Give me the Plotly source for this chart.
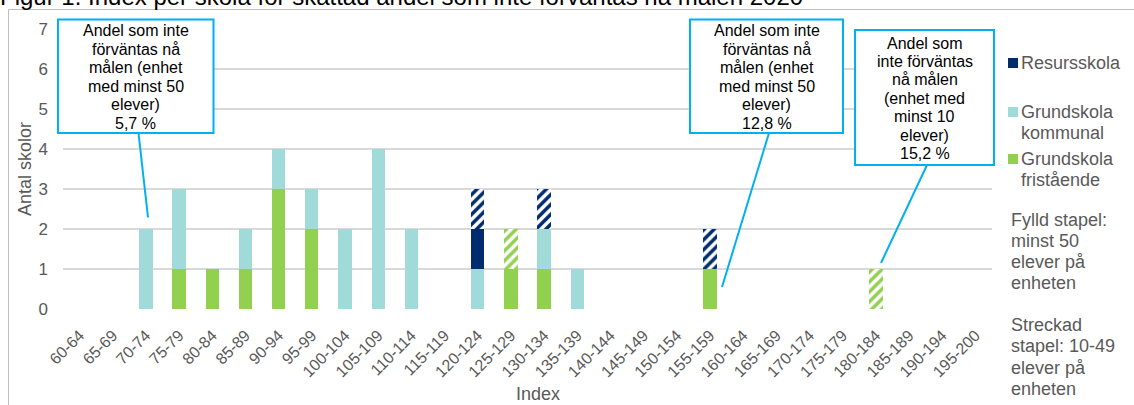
import plotly.graph_objects as go

# Index intervals on the x axis
kategorier = [
    "60-64", "65-69", "70-74", "75-79", "80-84", "85-89", "90-94", "95-99",
    "100-104", "105-109", "110-114", "115-119", "120-124", "125-129",
    "130-134", "135-139", "140-144", "145-149", "150-154", "155-159",
    "160-164", "165-169", "170-174", "175-179", "180-184", "185-189",
    "190-194", "195-200",
]

# Number of schools per interval – filled bars (at least 50 pupils)
fristaende_fylld = [0, 0, 0, 1, 1, 1, 3, 2, 0, 0, 0, 0, 0, 1, 1, 0, 0, 0, 0, 1, 0, 0, 0, 0, 0, 0, 0, 0]
kommunal_fylld   = [0, 0, 2, 2, 0, 1, 1, 1, 2, 4, 2, 0, 1, 0, 1, 1, 0, 0, 0, 0, 0, 0, 0, 0, 0, 0, 0, 0]
resurs_fylld     = [0, 0, 0, 0, 0, 0, 0, 0, 0, 0, 0, 0, 1, 0, 0, 0, 0, 0, 0, 0, 0, 0, 0, 0, 0, 0, 0, 0]
# Hatched bars (10-49 pupils)
fristaende_streckad = [0, 0, 0, 0, 0, 0, 0, 0, 0, 0, 0, 0, 0, 1, 0, 0, 0, 0, 0, 0, 0, 0, 0, 0, 1, 0, 0, 0]
resurs_streckad     = [0, 0, 0, 0, 0, 0, 0, 0, 0, 0, 0, 0, 1, 0, 1, 0, 0, 0, 0, 1, 0, 0, 0, 0, 0, 0, 0, 0]

# Callout texts
callout_1 = ["Andel som inte", "förväntas nå", "målen (enhet", "med minst 50", "elever)", "5,7 %"]
callout_2 = ["Andel som inte", "förväntas nå", "målen (enhet", "med minst 50", "elever)", "12,8 %"]
callout_3 = ["Andel som", "inte förväntas", "nå målen", "(enhet med", "minst 10", "elever)", "15,2 %"]

titel = "Figur 1. Index per skola för skattad andel som inte förväntas nå målen 2020"

NAVY = "#002B6E"
LJUSBLA = "#A0DAD9"
GRON = "#92D050"
CYAN = "#00B0F0"
GRA_TEXT = "#595959"
FONT = "Liberation Sans, Arial, sans-serif"

W, H = 1134, 405
L, R, T, B = 63, 992, 29, 309


def px_x(px):
    return (px - L) / (R - L)


def px_y(py):
    return (B - py) / (B - T)


def nz(vals):
    return [v if v else None for v in vals]


fig = go.Figure()

fig.add_bar(x=kategorier, y=nz(fristaende_fylld), name="Grundskola fristående",
            marker=dict(color=GRON, line=dict(width=0)))
fig.add_bar(x=kategorier, y=nz(kommunal_fylld), name="Grundskola kommunal",
            marker=dict(color=LJUSBLA, line=dict(width=0)))
fig.add_bar(x=kategorier, y=nz(resurs_fylld), name="Resursskola",
            marker=dict(color=NAVY, line=dict(width=0)))
fig.add_bar(x=kategorier, y=nz(fristaende_streckad), name="Grundskola fristående (10-49)",
            marker=dict(color="white", line=dict(width=0),
                        pattern=dict(shape="/", fgcolor=GRON, bgcolor="white",
                                     size=7, solidity=0.5, fillmode="replace")))
fig.add_bar(x=kategorier, y=nz(resurs_streckad), name="Resursskola (10-49)",
            marker=dict(color="white", line=dict(width=0),
                        pattern=dict(shape="/", fgcolor=NAVY, bgcolor="white",
                                     size=7, solidity=0.5, fillmode="replace")))

shapes = []
annotations = []

# Outer chart frame
shapes.append(dict(type="rect", xref="paper", yref="paper",
                   x0=px_x(8.5), y0=px_y(H + 20), x1=px_x(W + 20), y1=px_y(9.5),
                   line=dict(color="#BFBFBF", width=1), fillcolor="rgba(0,0,0,0)",
                   layer="below"))


def text_lines(lines, cx, y0, step, size, color, xanchor="center"):
    for i, line in enumerate(lines):
        annotations.append(dict(
            text=line, xref="paper", yref="paper",
            x=px_x(cx), y=px_y(y0 + i * step),
            xanchor=xanchor, yanchor="middle", showarrow=False,
            font=dict(size=size, color=color, family=FONT)))


def callout(lines, box, first_line, line_from, line_to):
    x0, y0, x1, y1 = box
    shapes.append(dict(type="rect", xref="paper", yref="paper",
                       x0=px_x(x0), y0=px_y(y1), x1=px_x(x1), y1=px_y(y0),
                       line=dict(color=CYAN, width=2), fillcolor="white"))
    shapes.append(dict(type="line", xref="paper", yref="paper",
                       x0=px_x(line_from[0]), y0=px_y(line_from[1]),
                       x1=px_x(line_to[0]), y1=px_y(line_to[1]),
                       line=dict(color=CYAN, width=2)))
    text_lines(lines, (x0 + x1) / 2, first_line, 18.4, 16, "#000000")


callout(callout_1, (58, 19.5, 213.5, 133), 31, (138.5, 133), (148, 217.5))
callout(callout_2, (690, 19.5, 843, 133), 31, (769, 133), (722, 287))
callout(callout_3, (855, 30, 994, 165), 43, (927, 165), (881, 263))

# Legend
legend_items = [
    (NAVY, ["Resursskola"], 63),
    (LJUSBLA, ["Grundskola", "kommunal"], 112),
    (GRON, ["Grundskola", "fristående"], 159),
]
for color, lines, yc in legend_items:
    shapes.append(dict(type="rect", xref="paper", yref="paper",
                       x0=px_x(1008), y0=px_y(yc + 5), x1=px_x(1018), y1=px_y(yc - 5),
                       line=dict(width=0), fillcolor=color))
    text_lines(lines, 1019, yc, 20.5, 18, GRA_TEXT, xanchor="left")

text_lines(["Fylld stapel:", "minst 50", "elever på", "enheten"], 1009, 220, 21.1, 18, GRA_TEXT, xanchor="left")
text_lines(["Streckad", "stapel: 10-49", "elever på", "enheten"], 1009, 325, 21.4, 18, GRA_TEXT, xanchor="left")

# Axis titles
annotations.append(dict(text="Antal skolor", xref="paper", yref="paper",
                        x=px_x(25), y=px_y(169), textangle=-90, showarrow=False,
                        xanchor="center", yanchor="middle",
                        font=dict(size=18, color=GRA_TEXT, family=FONT)))
annotations.append(dict(text="Index", xref="paper", yref="paper",
                        x=px_x(538), y=px_y(394), showarrow=False,
                        xanchor="center", yanchor="middle",
                        font=dict(size=18, color=GRA_TEXT, family=FONT)))

# Title (top part lies above the page)
annotations.append(dict(text=titel, xref="paper", yref="paper",
                        x=px_x(-2), y=px_y(-3), showarrow=False,
                        xanchor="left", yanchor="middle",
                        font=dict(size=24, color="#000000", family=FONT)))

fig.update_layout(
    width=W, height=H,
    margin=dict(l=L, r=W - R, t=T, b=H - B),
    barmode="stack", bargap=0.6,
    paper_bgcolor="white", plot_bgcolor="white",
    showlegend=False,
    font=dict(family=FONT, color=GRA_TEXT),
    shapes=shapes, annotations=annotations,
    xaxis=dict(type="category", categoryorder="array", categoryarray=kategorier,
               tickangle=-45, tickfont=dict(size=16, color=GRA_TEXT),
               showgrid=False, showline=False, zeroline=False, ticks="",
               ticklabelstandoff=13),
    yaxis=dict(range=[0, 7], dtick=1, showgrid=True, gridcolor="#D9D9D9", gridwidth=1.5,
               zeroline=False, showline=False, ticks="",
               tickfont=dict(size=17, color=GRA_TEXT), ticklabelstandoff=14),
)

fig.write_html("out.html")
